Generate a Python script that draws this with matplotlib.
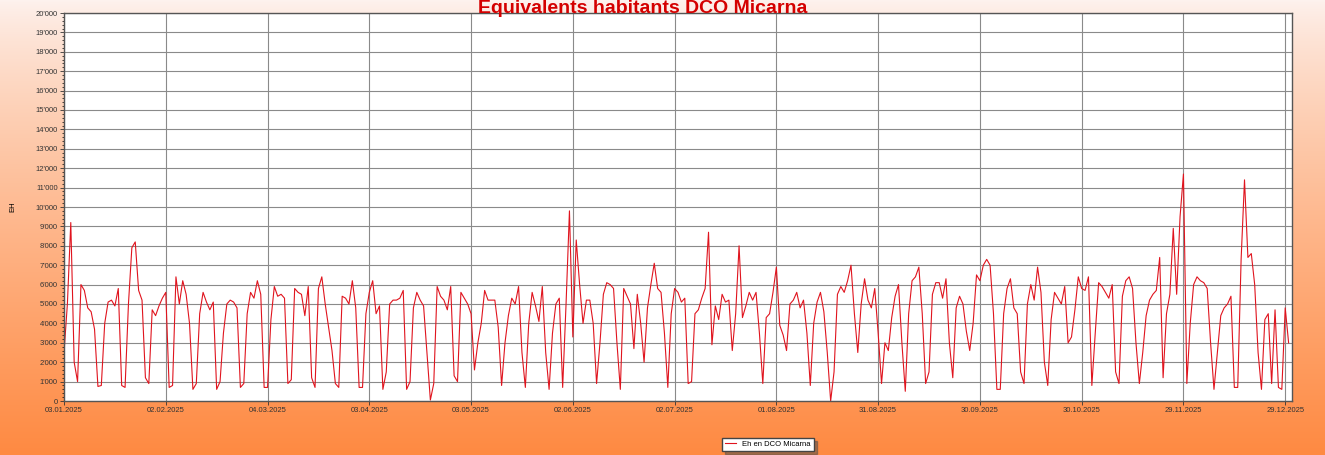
import numpy as np
import pandas as pd
import matplotlib
matplotlib.use("Agg")
import matplotlib.pyplot as plt
import matplotlib.dates as mdates
from matplotlib.ticker import FuncFormatter, MultipleLocator

plt.rcParams['font.family'] = ['Liberation Sans', 'DejaVu Sans']

# Daily values, EH (starts 03.01.2025)
start_date = "2025-01-03"
eh = [
    2500, 5000, 9200, 2000, 1000,
    6000, 5700, 4800, 4600, 3700, 750, 800,
    4000, 5100, 5200, 4900, 5800, 800, 700,
    5000, 7900, 8200, 5700, 5200, 1200, 900,
    4700, 4400, 4900, 5300, 5600, 700, 800,
    6400, 5000, 6200, 5500, 4000, 600, 900,
    4500, 5600, 5100, 4700, 5100, 600, 1000,
    3500, 5000, 5200, 5100, 4800, 700, 900,
    4500, 5600, 5300, 6200, 5500, 700, 700,
    4200, 5900, 5400, 5500, 5300, 900, 1100,
    5800, 5600, 5500, 4400, 5900, 1200, 700,
    5800, 6400, 5000, 3800, 2600, 900, 700,
    5400, 5300, 5000, 6200, 4800, 700, 700,
    4500, 5600, 6200, 4500, 4900, 600, 1500,
    5000, 5200, 5200, 5300, 5700, 600, 1000,
    4800, 5600, 5200, 4900, 2500, 50, 900,
    5900, 5400, 5200, 4700, 5900, 1300, 1000,
    5600, 5300, 5000, 4500, 1600, 3000, 4000,
    5700, 5200, 5200, 5200, 3800, 800, 3000,
    4400, 5300, 5000, 5900, 2500, 700, 4000,
    5600, 4900, 4100, 5900, 2500, 600, 3500,
    5000, 5300, 700, 5000, 9800, 3300, 8300,
    6000, 4000, 5200, 5200, 4000, 900, 3000,
    5500, 6100, 6000, 5800, 3000, 600, 5800,
    5400, 5000, 2700, 5500, 4000, 2000, 4800,
    6000, 7100, 5800, 5600, 3500, 700, 4500,
    5800, 5600, 5100, 5300, 900, 1000, 4500,
    4700, 5300, 5800, 8700, 2900, 4900, 4200,
    5500, 5100, 5200, 2600, 4500, 8000, 4300,
    4900, 5600, 5200, 5600, 3500, 900, 4300,
    4500, 5600, 6900, 3900, 3400, 2600, 5000,
    5200, 5600, 4800, 5200, 3500, 800, 4000,
    5100, 5600, 4600, 2500, 0, 1500, 5500,
    5900, 5600, 6200, 7000, 4500, 2500, 5000,
    6300, 5200, 4800, 5800, 3500, 900, 3000,
    2600, 4300, 5400, 6000, 3000, 500, 4500,
    6200, 6400, 6900, 4500, 900, 1500, 5500,
    6100, 6100, 5300, 6300, 3000, 1200, 4800,
    5400, 5000, 3600, 2600, 4000, 6500, 6200,
    7000, 7300, 7000, 4500, 600, 600, 4500,
    5800, 6300, 4800, 4500, 1500, 900, 5000,
    6000, 5200, 6900, 5600, 2000, 800, 4200,
    5600, 5300, 5000, 5900, 3000, 3300, 4700,
    6400, 5800, 5700, 6400, 800, 3500, 6100,
    5900, 5600, 5300, 6000, 1500, 900, 5400,
    6200, 6400, 5800, 3000, 900, 2500, 4400,
    5200, 5500, 5700, 7400, 1200, 4500, 5500,
    8900, 5500, 9500, 11700, 900, 4000, 6000,
    6400, 6200, 6100, 5800, 3000, 600, 2500,
    4400, 4800, 5000, 5400, 700, 700, 7300,
    11400, 7400, 7600, 6000, 2500, 600, 4200,
    4500, 900, 4700, 700, 600, 4800, 3000,
]
dates = pd.date_range(start_date, periods=len(eh), freq="D")
tick_dates = pd.date_range(start_date, "2025-12-29", freq="30D")

fig = plt.figure(figsize=(13.25, 4.55), dpi=100)

# background gradient
bg = fig.add_axes([0, 0, 1, 1], zorder=-10)
grad = np.linspace(0, 1, 256).reshape(-1, 1)
top = np.array([253, 242, 238]) / 255
bot = np.array([255, 138, 66]) / 255
img = top + (bot - top) * (grad[..., None] ** 0.8)
bg.imshow(img, aspect="auto", extent=[0, 1, 0, 1], origin="upper")
bg.axis("off")

ax = fig.add_axes([64 / 1325, 1 - 401 / 455, (1292 - 64) / 1325, (401 - 13) / 455])
ax.set_facecolor("white")
ax.plot(dates, eh, color="#e0141e", lw=0.8, label="Eh en DCO Micarna")

ax.set_ylim(0, 20000)
ax.set_xlim(pd.Timestamp(start_date), pd.Timestamp("2025-12-31"))
ax.yaxis.set_major_locator(MultipleLocator(1000))
ax.yaxis.set_minor_locator(MultipleLocator(200))
ax.yaxis.set_major_formatter(FuncFormatter(lambda v, p: f"{int(v):,}".replace(",", "'")))
ax.set_xticks(tick_dates)
ax.xaxis.set_major_formatter(mdates.DateFormatter("%d.%m.%Y"))
ax.tick_params(axis="both", labelsize=5.5, length=3, width=0.6, pad=1.5, colors="#333333")
ax.tick_params(axis="y", which="minor", length=1.5, width=0.5)
ax.grid(True, which="major", color="#8a8a8a", lw=0.8)
ax.set_axisbelow(True)
for s in ax.spines.values():
    s.set_color("#555555")
    s.set_linewidth(1.0)
ax.set_ylabel("EH", fontsize=5.5, labelpad=14)

fig.text(0.485, 0.999, "Equivalents habitants DCO Micarna", color="#d40000",
         fontsize=14, fontweight="bold", ha="center", va="top", zorder=10)

fig.legend(loc="lower left", bbox_to_anchor=(718 / 1325, 0.0), fontsize=5.5,
           frameon=True, fancybox=False, shadow=True, edgecolor="#444444",
           handlelength=1.5, borderpad=0.4)

fig.savefig("out.png", dpi=100)
